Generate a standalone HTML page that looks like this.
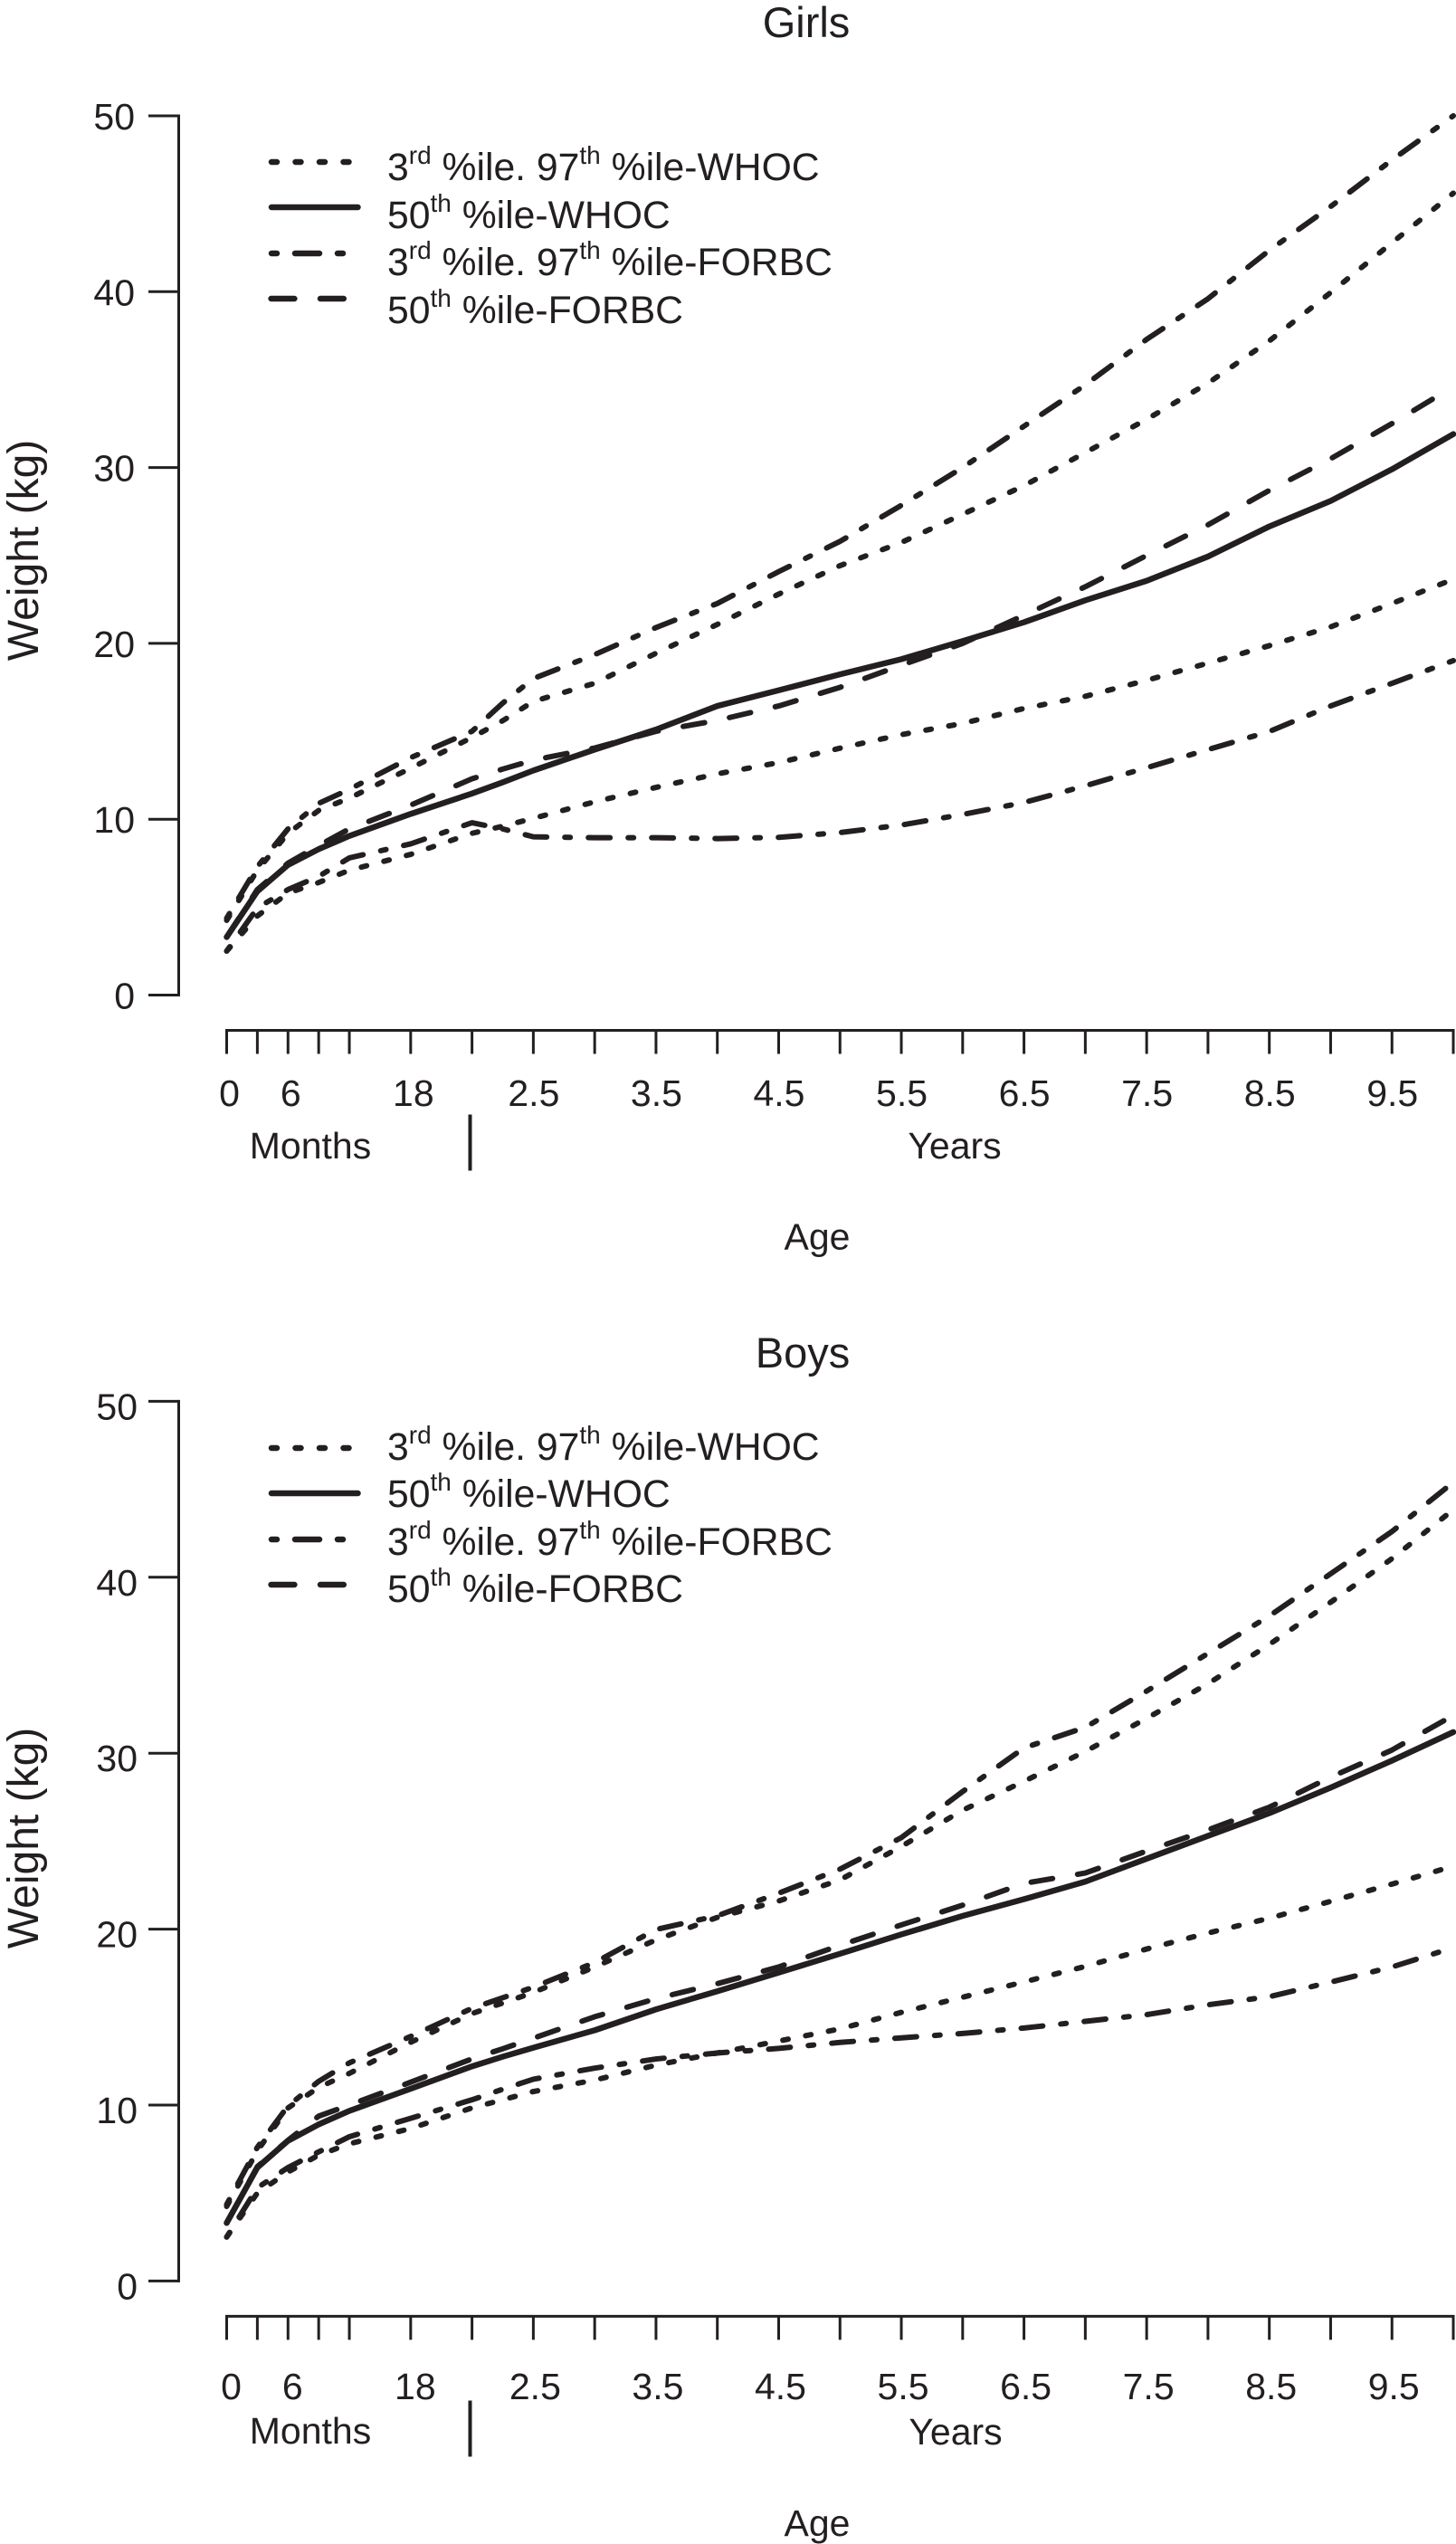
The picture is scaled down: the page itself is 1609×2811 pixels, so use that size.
<!DOCTYPE html>
<html lang="en">
<head>
<meta charset="utf-8">
<title>Weight-for-age curves: Girls and Boys</title>
<style>
  html, body { margin: 0; padding: 0; background: #fff; }
  svg { display: block; }
  text { font-family: "Liberation Sans", Arial, sans-serif; fill: #231f20; }
  .title { font-size: 47px; text-anchor: middle; }
  .ytitle { font-size: 48px; text-anchor: middle; }
  .tick { font-size: 41px; }
  .axis-label { font-size: 41px; text-anchor: middle; }
  .legend { font-size: 42.7px; }
  .sup { font-size: 28px; }
</style>
</head>
<body>
<svg id="chart" xmlns="http://www.w3.org/2000/svg" width="1609" height="2811" viewBox="0 0 1609 2811">
  <rect x="0" y="0" width="1609" height="2811" fill="#ffffff"/>

  <g id="girls">
    <text class="title" x="891" y="41">Girls</text>
    <text class="ytitle" transform="translate(42,608) rotate(-90)">Weight (kg)</text>
    <text class="axis-label" x="343" y="1280">Months</text>
    <text class="axis-label" x="1055" y="1280">Years</text>
    <text class="axis-label" x="903" y="1380.5">Age</text>
    <line x1="519.5" y1="1231.5" x2="519.5" y2="1293.5" stroke="#231f20" stroke-width="4"/>
    <g>
      <line x1="300" y1="179" x2="386" y2="179" stroke="#231f20" stroke-width="6.5" stroke-linecap="round" stroke-dasharray="6 20.5"/>
      <line x1="300" y1="229" x2="395.5" y2="229" stroke="#231f20" stroke-width="6.5" stroke-linecap="round"/>
      <line x1="300" y1="280" x2="379" y2="280" stroke="#231f20" stroke-width="6.5" stroke-linecap="round" stroke-dasharray="6 20 27 20"/>
      <line x1="299.6" y1="330" x2="380" y2="330" stroke="#231f20" stroke-width="6.5" stroke-linecap="round" stroke-dasharray="25.8 28.6"/>
      <text class="legend" x="428" y="199">3<tspan class="sup" dy="-18">rd</tspan><tspan dy="18"> %ile. 97</tspan><tspan class="sup" dy="-18">th</tspan><tspan dy="18"> %ile-WHOC</tspan></text>
      <text class="legend" x="428" y="252">50<tspan class="sup" dy="-18">th</tspan><tspan dy="18"> %ile-WHOC</tspan></text>
      <text class="legend" x="428" y="304">3<tspan class="sup" dy="-18">rd</tspan><tspan dy="18"> %ile. 97</tspan><tspan class="sup" dy="-18">th</tspan><tspan dy="18"> %ile-FORBC</tspan></text>
      <text class="legend" x="428" y="357">50<tspan class="sup" dy="-18">th</tspan><tspan dy="18"> %ile-FORBC</tspan></text>
    </g>
  </g>

  <g id="boys">
    <text class="title" x="887" y="1511">Boys</text>
    <text class="ytitle" transform="translate(42,2031) rotate(-90)">Weight (kg)</text>
    <text class="axis-label" x="343" y="2700">Months</text>
    <text class="axis-label" x="1056" y="2701">Years</text>
    <text class="axis-label" x="903" y="2802">Age</text>
    <line x1="519.5" y1="2652.5" x2="519.5" y2="2714.5" stroke="#231f20" stroke-width="4"/>
    <g>
      <line x1="300" y1="1600" x2="386" y2="1600" stroke="#231f20" stroke-width="6.5" stroke-linecap="round" stroke-dasharray="6 20.5"/>
      <line x1="300" y1="1650" x2="395.5" y2="1650" stroke="#231f20" stroke-width="6.5" stroke-linecap="round"/>
      <line x1="300" y1="1701" x2="379" y2="1701" stroke="#231f20" stroke-width="6.5" stroke-linecap="round" stroke-dasharray="6 20 27 20"/>
      <line x1="299.6" y1="1751" x2="380" y2="1751" stroke="#231f20" stroke-width="6.5" stroke-linecap="round" stroke-dasharray="25.8 28.6"/>
      <text class="legend" x="428" y="1613">3<tspan class="sup" dy="-18">rd</tspan><tspan dy="18"> %ile. 97</tspan><tspan class="sup" dy="-18">th</tspan><tspan dy="18"> %ile-WHOC</tspan></text>
      <text class="legend" x="428" y="1665">50<tspan class="sup" dy="-18">th</tspan><tspan dy="18"> %ile-WHOC</tspan></text>
      <text class="legend" x="428" y="1718">3<tspan class="sup" dy="-18">rd</tspan><tspan dy="18"> %ile. 97</tspan><tspan class="sup" dy="-18">th</tspan><tspan dy="18"> %ile-FORBC</tspan></text>
      <text class="legend" x="428" y="1770">50<tspan class="sup" dy="-18">th</tspan><tspan dy="18"> %ile-FORBC</tspan></text>
    </g>
  </g>
</svg>

<script>
// Shared axes (age in months, weight in kg)
const months = [0,3,6,9,12,18,24,27,30,36,42,48,54,60,66,72,78,84,90,96,102,108,114,120];
const xTickMonths = [0,3,6,9,12,18,24,30,36,42,48,54,60,66,72,78,84,90,96,102,108,114,120];
const xLabelMonths = [0,6,18,30,42,54,66,78,90,102,114];
const xLabelTexts = ['0','6','18','2.5','3.5','4.5','5.5','6.5','7.5','8.5','9.5'];
const yTicks = [0,10,20,30,40,50];

// Girls series
const girlsWho3 = [2.5,4.5,5.8,6.4,7.1,8.0,9.2,9.6,10.05,10.99,11.81,12.58,13.22,14.04,14.81,15.45,16.3,16.99,17.9,18.88,19.87,20.94,22.27,23.65];
const girlsWho50 = [3.3,5.9,7.4,8.3,9.05,10.3,11.46,12.1,12.77,13.96,15.1,16.44,17.33,18.24,19.1,20.13,21.2,22.45,23.56,24.94,26.65,28.1,29.9,31.9];
const girlsWho97 = [4.25,7.1,9.2,10.5,11.2,12.9,14.65,15.6,16.7,17.73,19.44,21.08,22.8,24.42,25.74,27.34,28.97,30.85,32.74,34.8,37.2,39.95,42.78,45.6];
const girlsFor3 = [2.5,4.95,6.0,6.75,7.8,8.6,9.8,9.45,9.0,8.95,8.95,8.9,8.97,9.24,9.67,10.27,10.95,11.9,12.93,13.96,14.99,16.44,17.73,19.02];
const girlsFor50 = [3.3,6.0,7.5,8.5,9.45,10.8,12.3,12.85,13.36,14.05,15.0,15.62,16.44,17.5,18.76,20.0,21.6,23.22,25.0,26.74,28.7,30.5,32.5,34.6];
const girlsFor97 = [4.37,7.3,9.45,10.9,11.7,13.5,15.0,16.6,18.0,19.36,20.9,22.27,24.08,25.8,27.85,30.0,32.35,34.7,37.29,39.6,42.35,44.84,47.49,50.0];

// Boys series
const boysWho3 = [2.5,5.0,6.2,7.15,7.8,8.67,9.84,10.3,10.77,11.42,12.27,12.96,13.64,14.33,15.27,16.13,17.0,17.88,18.87,19.78,20.62,21.58,22.56,23.58];
const boysWho50 = [3.3,6.45,7.97,8.9,9.67,10.93,12.2,12.75,13.26,14.25,15.44,16.47,17.53,18.6,19.7,20.75,21.7,22.7,24.0,25.3,26.59,28.04,29.58,31.2];
const boysWho97 = [4.24,7.4,9.84,11.0,11.8,13.57,15.2,15.8,16.4,17.85,19.39,20.67,21.6,22.8,24.7,26.76,28.4,30.1,31.98,33.95,36.18,38.58,41.06,43.84];
const boysFor3 = [2.5,5.3,6.45,7.34,8.2,9.25,10.3,10.9,11.47,12.1,12.62,12.96,13.22,13.56,13.82,14.07,14.38,14.76,15.14,15.7,16.16,16.99,17.85,18.95];
const boysFor50 = [3.3,6.5,8.0,9.37,10.0,11.3,12.63,13.2,13.8,15.02,16.05,16.9,17.85,19.08,20.24,21.36,22.6,23.19,24.44,25.64,26.93,28.64,30.18,32.15];
const boysFor97 = [4.35,7.6,9.95,11.35,12.4,13.9,15.5,16.1,16.7,18.1,19.98,20.76,22.04,23.41,25.2,27.82,30.3,31.47,33.53,35.67,37.8,40.2,42.6,45.4];

const INK = '#231f20';
const SVGNS = 'http://www.w3.org/2000/svg';

function xScale(m) { return 250.5 + 11.296 * m; }

function make(tag, parent, attrs) {
  const el = document.createElementNS(SVGNS, tag);
  for (const k in attrs) el.setAttribute(k, attrs[k]);
  parent.appendChild(el);
  return el;
}

function drawAxes(group, prefix, zeroY, perKg, axisY, labelY, monthDx, yearDx, yLabelRight, yLabelDy) {
  const yScale = function (v) { return zeroY - perKg * v; };

  const yLine = make('line', group, { x1: 197.5, x2: 197.5, y1: yScale(50) - 1.5, y2: yScale(0) + 1.5, stroke: INK, 'stroke-width': 3 });
  
  

  yTicks.forEach(function (v) {
    const t = make('line', group, { x1: 164, x2: 197.5, y1: yScale(v), y2: yScale(v), stroke: INK, 'stroke-width': 3 });
    
    
    const lab = make('text', group, { class: 'tick', x: yLabelRight, y: yScale(v) + yLabelDy, 'text-anchor': 'end' });
    lab.textContent = String(v);
    
    
  });

  const xLine = make('line', group, { x1: xScale(0) - 1.5, x2: xScale(120) + 1.5, y1: axisY, y2: axisY, stroke: INK, 'stroke-width': 3 });
  
  

  xTickMonths.forEach(function (m) {
    const t = make('line', group, { x1: xScale(m), x2: xScale(m), y1: axisY, y2: axisY + 26, stroke: INK, 'stroke-width': 3 });
    
    
  });

  xLabelMonths.forEach(function (m, i) {
    const dx = m < 30 ? monthDx : yearDx;
    const lab = make('text', group, { class: 'tick', x: xScale(m) + dx, y: labelY, 'text-anchor': 'middle' });
    lab.textContent = xLabelTexts[i];
    
    
  });

  return yScale;
}

function drawSeries(group, name, values, yScale, dash, width) {
  const pts = values.map(function (v, i) { return xScale(months[i]).toFixed(2) + ',' + yScale(v).toFixed(2); }).join(' ');
  const attrs = { points: pts, fill: 'none', stroke: INK, 'stroke-width': width, 'stroke-linecap': 'round', 'stroke-linejoin': 'round' };
  if (dash) attrs['stroke-dasharray'] = dash;
  const line = make('polyline', group, attrs);
  
  
}

const DOTTED = '6 19.7';
const DOTDASH = '6 20 24 20';
const LONGDASH = '24 28';

const girlsGroup = document.getElementById('girls');
const girlsY = drawAxes(girlsGroup, 'girls', 1099.5, 19.43, 1138.5, 1222, 3, 0.5, 149, 15);
drawSeries(girlsGroup, 'girls-who-3rd-line', girlsWho3, girlsY, DOTTED, 6);
drawSeries(girlsGroup, 'girls-who-97th-line', girlsWho97, girlsY, DOTTED, 6);
drawSeries(girlsGroup, 'girls-forbc-3rd-line', girlsFor3, girlsY, DOTDASH, 6);
drawSeries(girlsGroup, 'girls-forbc-97th-line', girlsFor97, girlsY, DOTDASH, 6);
drawSeries(girlsGroup, 'girls-forbc-50th-line', girlsFor50, girlsY, LONGDASH, 6);
drawSeries(girlsGroup, 'girls-who-50th-line', girlsWho50, girlsY, null, 6.5);

const boysGroup = document.getElementById('boys');
const boysY = drawAxes(boysGroup, 'boys', 2520.4, 19.44, 2559.4, 2651, 5, 2, 152, 20);
drawSeries(boysGroup, 'boys-who-3rd-line', boysWho3, boysY, DOTTED, 6);
drawSeries(boysGroup, 'boys-who-97th-line', boysWho97, boysY, DOTTED, 6);
drawSeries(boysGroup, 'boys-forbc-3rd-line', boysFor3, boysY, DOTDASH, 6);
drawSeries(boysGroup, 'boys-forbc-97th-line', boysFor97, boysY, DOTDASH, 6);
drawSeries(boysGroup, 'boys-forbc-50th-line', boysFor50, boysY, LONGDASH, 6);
drawSeries(boysGroup, 'boys-who-50th-line', boysWho50, boysY, null, 6.5);
</script>
</body>
</html>
